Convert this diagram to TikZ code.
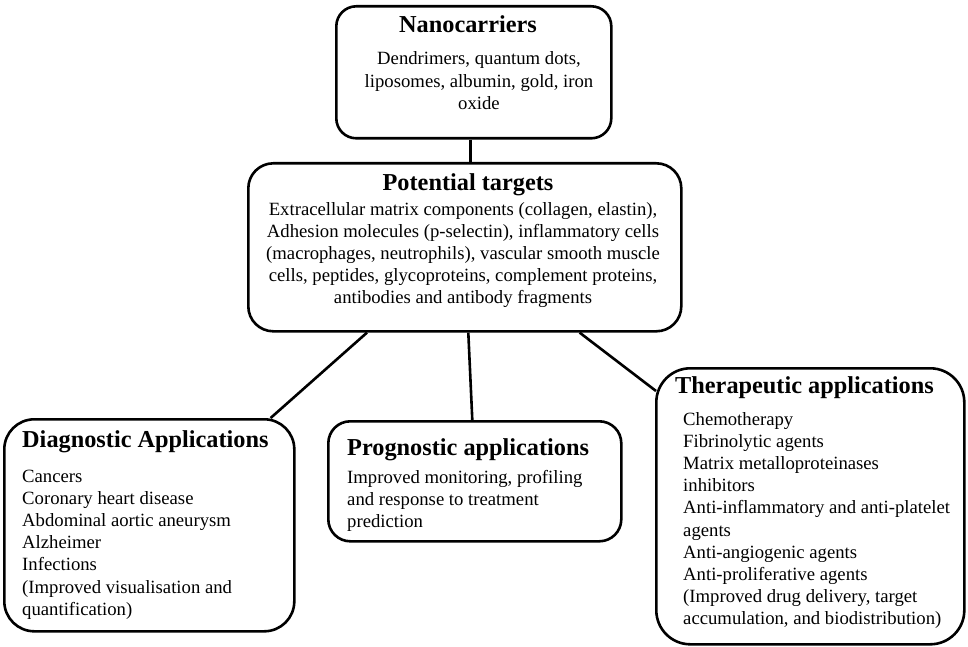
\documentclass[tikz,border=0pt]{standalone}
\usepackage{fontspec}
\setmainfont{Liberation Serif}
\newcommand\mylines[2]{\begin{tabular}[t]{@{}#1@{}}#2\end{tabular}}
\begin{document}
\begin{tikzpicture}[x=1pt,y=-1pt,
  box/.style={draw=black, line width=2.6pt, fill=white, anchor=north west, inner sep=0pt},
  link/.style={draw=black, line width=2.6pt},
  ttl/.style={font=\fontsize{24.3}{28}\selectfont\bfseries, inner sep=0pt},
  bodytxt/.style={font=\fontsize{18.7}{22.2}\selectfont, inner sep=0pt}]
\useasboundingbox (0,0) rectangle (968,647);
\fill[white] (0,0) rectangle (968,647);
% boxes
\node[box, rounded corners=20pt, minimum width=275pt, minimum height=132pt] (nano) at (335,5) {};
\node[box, rounded corners=25pt, minimum width=433pt, minimum height=168pt] (pt) at (247,162) {};
\node[box, rounded corners=30pt, minimum width=290pt, minimum height=212pt] (diag) at (3,418) {};
\node[box, rounded corners=22pt, minimum width=293pt, minimum height=120pt] (prog) at (327,420) {};
\node[box, rounded corners=34pt, minimum width=308pt, minimum height=276pt] (ther) at (655,367) {};
% connectors
\draw[link] ([xshift=-3.5pt]nano.south) -- ([xshift=-3.5pt]nano.south |- pt.north);
\draw[link] ([xshift=120pt]pt.south west) -- ([xshift=-25pt]diag.north east);
\draw[link] ([xshift=3.5pt]pt.south) -- ([xshift=-2.5pt]prog.north);
\draw[link] ([xshift=-103pt]pt.south east) -- ([xshift=1pt,yshift=-24pt]ther.north west);
% texts
\node[ttl, anchor=base] (nanot) at (468,33) {Nanocarriers};
\node[bodytxt, anchor=base] (nanob) at (479,65) {\mylines{c}{Dendrimers, quantum dots,\\liposomes, albumin, gold, iron\\oxide}};
\node[ttl, anchor=base] (ptt) at (468,190) {Potential targets};
\node[bodytxt, anchor=base] (ptb) at (463,215) {\mylines{c}{Extracellular matrix components (collagen, elastin),\\Adhesion molecules (p-selectin), inflammatory cells\\(macrophages, neutrophils), vascular smooth muscle\\cells, peptides, glycoproteins, complement proteins,\\antibodies and antibody fragments}};
\node[ttl, anchor=base west] (diagt) at (22,447) {Diagnostic Applications};
\node[bodytxt, anchor=base west] (diagb) at (22,482) {\mylines{l}{Cancers\\Coronary heart disease\\Abdominal aortic aneurysm\\Alzheimer\\Infections\\(Improved visualisation and\\quantification)}};
\node[ttl, anchor=base west] (progt) at (347,455) {Prognostic applications};
\node[bodytxt, anchor=base west] (progb) at (347,483) {\mylines{l}{Improved monitoring, profiling\\and response to treatment\\prediction}};
\node[ttl, anchor=base west] (thert) at (675,393) {Therapeutic applications};
\node[bodytxt, anchor=base west] (therb) at (683,425) {\mylines{l}{Chemotherapy\\Fibrinolytic agents\\Matrix metalloproteinases\\inhibitors\\Anti-inflammatory and anti-platelet\\agents\\Anti-angiogenic agents\\Anti-proliferative agents\\(Improved drug delivery, target\\accumulation, and biodistribution)}};
\end{tikzpicture}
\end{document}
